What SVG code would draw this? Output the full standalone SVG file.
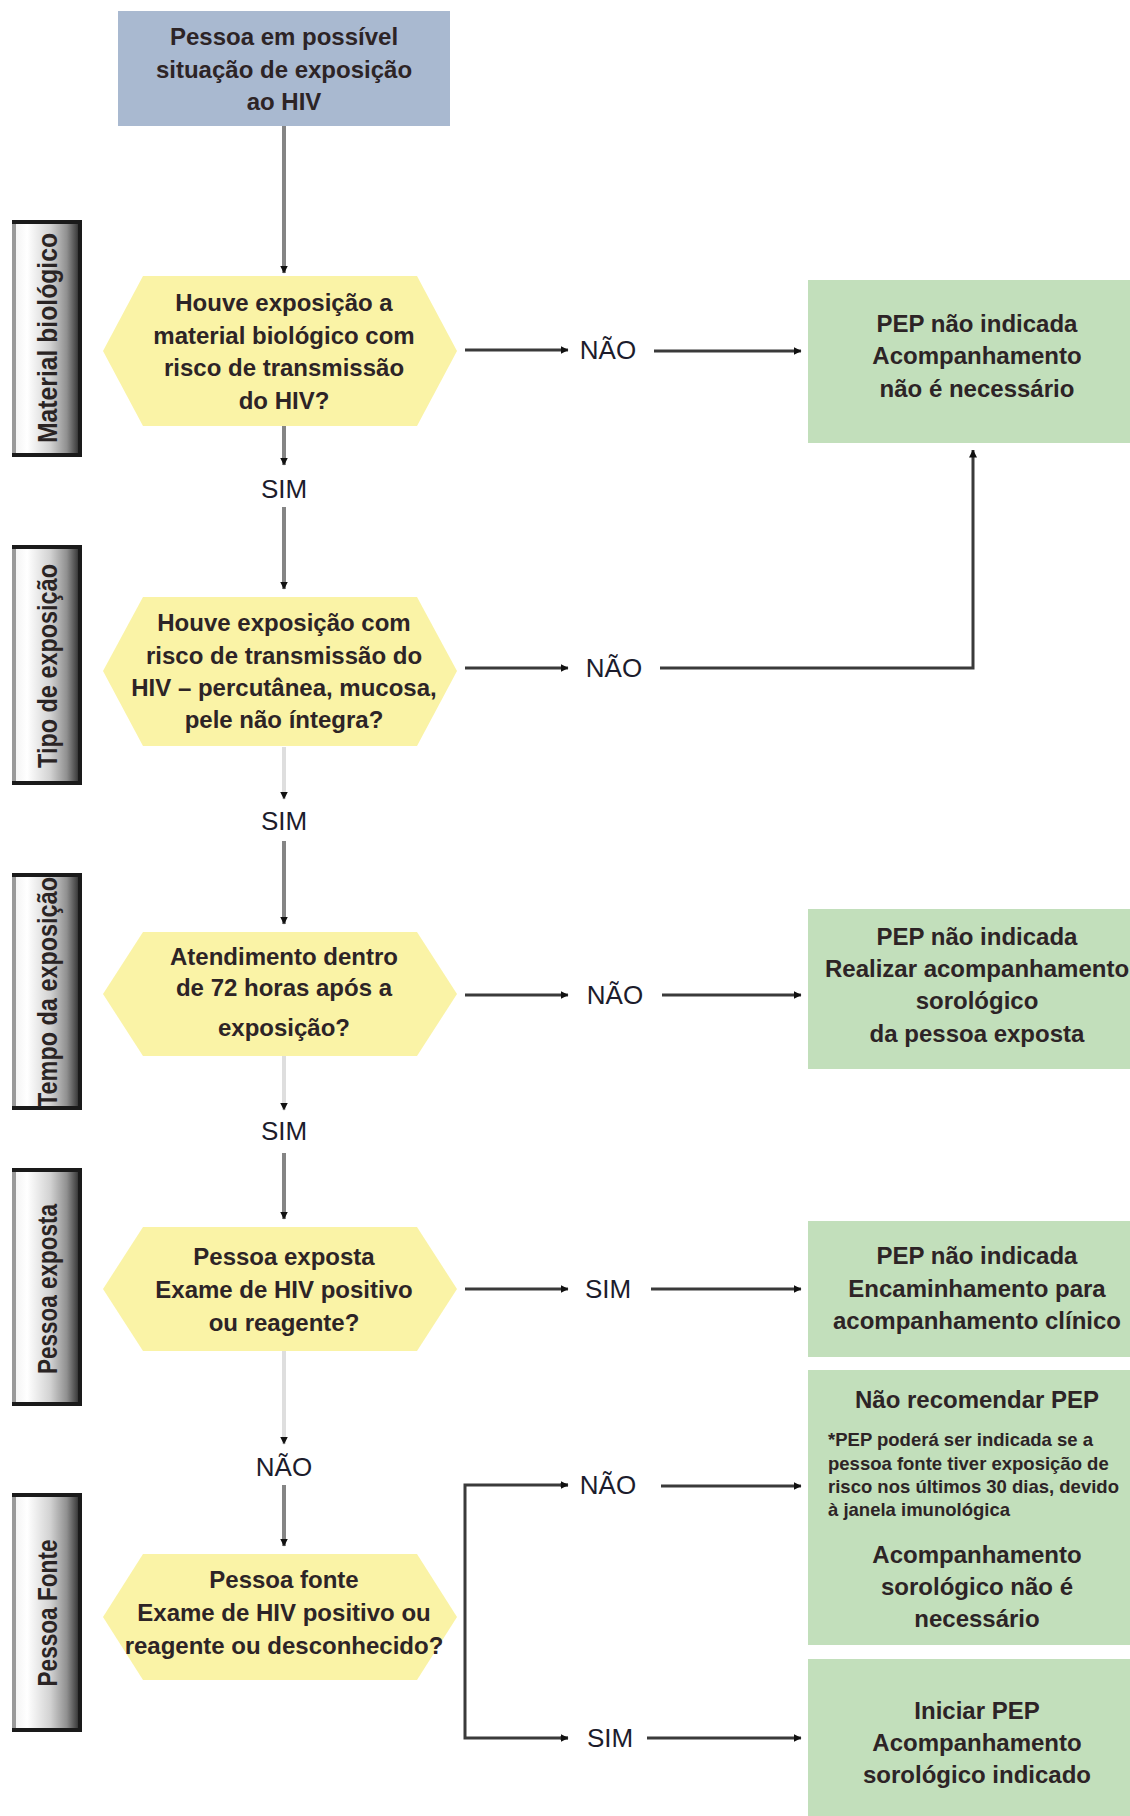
<svg xmlns="http://www.w3.org/2000/svg" width="1130" height="1816" viewBox="0 0 1130 1816">
  <defs>
    <style>
      .node-text { font-family: "Liberation Sans", Arial, sans-serif; font-weight: bold; font-size: 24px; fill: #2d2426; text-anchor: middle; }
      .note-text { font-family: "Liberation Sans", Arial, sans-serif; font-weight: bold; font-size: 18.5px; fill: #2d2426; }
      .side-text { font-family: "Liberation Sans", Arial, sans-serif; font-weight: bold; font-size: 27px; fill: #2a2424; text-anchor: middle; }
      .edge-label { font-family: "Liberation Sans", Arial, sans-serif; font-size: 26px; fill: #1c1c2c; text-anchor: middle; }
      .start { fill: #a9b9d0; }
      .decision { fill: #faf3a6; }
      .outcome { fill: #c2dfbb; }
      .edge { fill: none; stroke: #3a3a3a; stroke-width: 3; }
      .edge-v { fill: none; stroke: #858585; stroke-width: 4; }
      .edge-faint { fill: none; stroke: #dedede; stroke-width: 4; }
      .side-box { fill: url(#sideGrad); stroke: #1a1a1a; stroke-width: 4; }
      .side-edge { stroke: #999999; stroke-width: 4; }
    </style>
    <linearGradient id="sideGrad" x1="0" y1="0" x2="1" y2="0">
      <stop offset="0" stop-color="#f2f2f2"/>
      <stop offset="0.2" stop-color="#ffffff"/>
      <stop offset="0.55" stop-color="#d2d2d2"/>
      <stop offset="0.8" stop-color="#909090"/>
      <stop offset="0.95" stop-color="#444444"/>
      <stop offset="1" stop-color="#222222"/>
    </linearGradient>
    <marker id="arrow" viewBox="0 0 8 8" refX="7.5" refY="4" markerWidth="8" markerHeight="8" markerUnits="userSpaceOnUse" orient="auto">
      <path d="M0,0 L8,4 L0,8 z" fill="#111111"/>
    </marker>
  </defs>

  <rect width="1130" height="1816" fill="#ffffff"/>

  <!-- stage labels on the left -->
  <g id="stage-material">
    <rect class="side-box" x="14" y="222" width="66" height="233"/>
    <line class="side-edge" x1="14" y1="224" x2="14" y2="453"/>
    <text class="side-text" transform="translate(57,338) rotate(-90)" textLength="210" lengthAdjust="spacingAndGlyphs">Material biológico</text>
  </g>
  <g id="stage-tipo">
    <rect class="side-box" x="14" y="547" width="66" height="236"/>
    <line class="side-edge" x1="14" y1="549" x2="14" y2="781"/>
    <text class="side-text" transform="translate(57,666) rotate(-90)" textLength="204" lengthAdjust="spacingAndGlyphs">Tipo de exposição</text>
  </g>
  <g id="stage-tempo">
    <rect class="side-box" x="14" y="875" width="66" height="233"/>
    <line class="side-edge" x1="14" y1="877" x2="14" y2="1106"/>
    <text class="side-text" transform="translate(57,992) rotate(-90)" textLength="230" lengthAdjust="spacingAndGlyphs">Tempo da exposição</text>
  </g>
  <g id="stage-exposta">
    <rect class="side-box" x="14" y="1170" width="66" height="234"/>
    <line class="side-edge" x1="14" y1="1172" x2="14" y2="1402"/>
    <text class="side-text" transform="translate(57,1289) rotate(-90)" textLength="170" lengthAdjust="spacingAndGlyphs">Pessoa exposta</text>
  </g>
  <g id="stage-fonte">
    <rect class="side-box" x="14" y="1495" width="66" height="235"/>
    <line class="side-edge" x1="14" y1="1497" x2="14" y2="1728"/>
    <text class="side-text" transform="translate(57,1613) rotate(-90)" textLength="147" lengthAdjust="spacingAndGlyphs">Pessoa Fonte</text>
  </g>

  <!-- connectors -->
  <g id="connectors">
    <!-- main vertical flow -->
    <path class="edge-v" d="M284,126 V273" marker-end="url(#arrow)"/>
    <path class="edge-v" d="M284,426 V465" marker-end="url(#arrow)"/>
    <path class="edge-v" d="M284,507 V589" marker-end="url(#arrow)"/>
    <path class="edge-faint" d="M284,747 V799" marker-end="url(#arrow)"/>
    <path class="edge-v" d="M284,841 V924" marker-end="url(#arrow)"/>
    <path class="edge-faint" d="M284,1056 V1110" marker-end="url(#arrow)"/>
    <path class="edge-v" d="M284,1153 V1219" marker-end="url(#arrow)"/>
    <path class="edge-faint" d="M284,1351 V1444" marker-end="url(#arrow)"/>
    <path class="edge-v" d="M284,1485 V1546" marker-end="url(#arrow)"/>

    <!-- branches to the right -->
    <path class="edge" d="M465,350 H568" marker-end="url(#arrow)"/>
    <path class="edge" d="M654,351 H801" marker-end="url(#arrow)"/>

    <path class="edge" d="M465,668 H568" marker-end="url(#arrow)"/>
    <path class="edge" d="M660,668 H973 V450" marker-end="url(#arrow)"/>

    <path class="edge" d="M465,995 H568" marker-end="url(#arrow)"/>
    <path class="edge" d="M662,995 H801" marker-end="url(#arrow)"/>

    <path class="edge" d="M465,1289 H568" marker-end="url(#arrow)"/>
    <path class="edge" d="M651,1289 H801" marker-end="url(#arrow)"/>

    <path class="edge" d="M568,1485 H465 V1738 H568"/>
    <path class="edge" d="M560,1485 H568" marker-end="url(#arrow)"/>
    <path class="edge" d="M560,1738 H568" marker-end="url(#arrow)"/>
    <path class="edge" d="M661,1486 H801" marker-end="url(#arrow)"/>
    <path class="edge" d="M647,1738 H801" marker-end="url(#arrow)"/>

    <!-- branch labels -->
    <text class="edge-label" x="284" y="498">SIM</text>
    <text class="edge-label" x="284" y="830">SIM</text>
    <text class="edge-label" x="284" y="1140">SIM</text>
    <text class="edge-label" x="284" y="1476">NÃO</text>
    <text class="edge-label" x="608" y="359">NÃO</text>
    <text class="edge-label" x="614" y="677">NÃO</text>
    <text class="edge-label" x="615" y="1004">NÃO</text>
    <text class="edge-label" x="608" y="1298">SIM</text>
    <text class="edge-label" x="608" y="1494">NÃO</text>
    <text class="edge-label" x="610" y="1747">SIM</text>
  </g>

  <!-- start -->
  <g id="start">
    <rect class="start" x="118" y="11" width="332" height="115"/>
    <text class="node-text" x="284" y="45">Pessoa em possível</text>
    <text class="node-text" x="284" y="78">situação de exposição</text>
    <text class="node-text" x="284" y="110">ao HIV</text>
  </g>

  <!-- decisions -->
  <g id="q-material">
    <polygon class="decision" points="143,276 417,276 457,351 417,426 143,426 103,351"/>
    <text class="node-text" x="284" y="311">Houve exposição a</text>
    <text class="node-text" x="284" y="344">material biológico com</text>
    <text class="node-text" x="284" y="376">risco de transmissão</text>
    <text class="node-text" x="284" y="409">do HIV?</text>
  </g>
  <g id="q-tipo">
    <polygon class="decision" points="143,597 417,597 457,671 417,746 143,746 103,671"/>
    <text class="node-text" x="284" y="631">Houve exposição com</text>
    <text class="node-text" x="284" y="664">risco de transmissão do</text>
    <text class="node-text" x="284" y="696">HIV – percutânea, mucosa,</text>
    <text class="node-text" x="284" y="728">pele não íntegra?</text>
  </g>
  <g id="q-tempo">
    <polygon class="decision" points="143,932 417,932 457,994 417,1056 143,1056 103,994"/>
    <text class="node-text" x="284" y="965">Atendimento dentro</text>
    <text class="node-text" x="284" y="996">de 72 horas após a</text>
    <text class="node-text" x="284" y="1036">exposição?</text>
  </g>
  <g id="q-exposta">
    <polygon class="decision" points="143,1227 417,1227 457,1289 417,1351 143,1351 103,1289"/>
    <text class="node-text" x="284" y="1265">Pessoa exposta</text>
    <text class="node-text" x="284" y="1298">Exame de HIV positivo</text>
    <text class="node-text" x="284" y="1331">ou reagente?</text>
  </g>
  <g id="q-fonte">
    <polygon class="decision" points="143,1554 417,1554 457,1617 417,1680 143,1680 103,1617"/>
    <text class="node-text" x="284" y="1588">Pessoa fonte</text>
    <text class="node-text" x="284" y="1621">Exame de HIV positivo ou</text>
    <text class="node-text" x="284" y="1654">reagente ou desconhecido?</text>
  </g>

  <!-- outcomes -->
  <g id="r-nao-indicada">
    <rect class="outcome" x="808" y="280" width="322" height="163"/>
    <text class="node-text" x="977" y="332">PEP não indicada</text>
    <text class="node-text" x="977" y="364">Acompanhamento</text>
    <text class="node-text" x="977" y="397">não é necessário</text>
  </g>
  <g id="r-fora-prazo">
    <rect class="outcome" x="808" y="909" width="322" height="160"/>
    <text class="node-text" x="977" y="945">PEP não indicada</text>
    <text class="node-text" x="977" y="977">Realizar acompanhamento</text>
    <text class="node-text" x="977" y="1009">sorológico</text>
    <text class="node-text" x="977" y="1042">da pessoa exposta</text>
  </g>
  <g id="r-exposta-positiva">
    <rect class="outcome" x="808" y="1221" width="322" height="136"/>
    <text class="node-text" x="977" y="1264">PEP não indicada</text>
    <text class="node-text" x="977" y="1297">Encaminhamento para</text>
    <text class="node-text" x="977" y="1329">acompanhamento clínico</text>
  </g>
  <g id="r-fonte-negativa">
    <rect class="outcome" x="808" y="1370" width="322" height="275"/>
    <text class="node-text" x="977" y="1408">Não recomendar PEP</text>
    <text class="note-text" x="828" y="1446">*PEP poderá ser indicada se a</text>
    <text class="note-text" x="828" y="1470">pessoa fonte tiver exposição de</text>
    <text class="note-text" x="828" y="1493">risco nos últimos 30 dias, devido</text>
    <text class="note-text" x="828" y="1516">à janela imunológica</text>
    <text class="node-text" x="977" y="1563">Acompanhamento</text>
    <text class="node-text" x="977" y="1595">sorológico não é</text>
    <text class="node-text" x="977" y="1627">necessário</text>
  </g>
  <g id="r-iniciar-pep">
    <rect class="outcome" x="808" y="1659" width="322" height="157"/>
    <text class="node-text" x="977" y="1719">Iniciar PEP</text>
    <text class="node-text" x="977" y="1751">Acompanhamento</text>
    <text class="node-text" x="977" y="1783">sorológico indicado</text>
  </g>
</svg>
